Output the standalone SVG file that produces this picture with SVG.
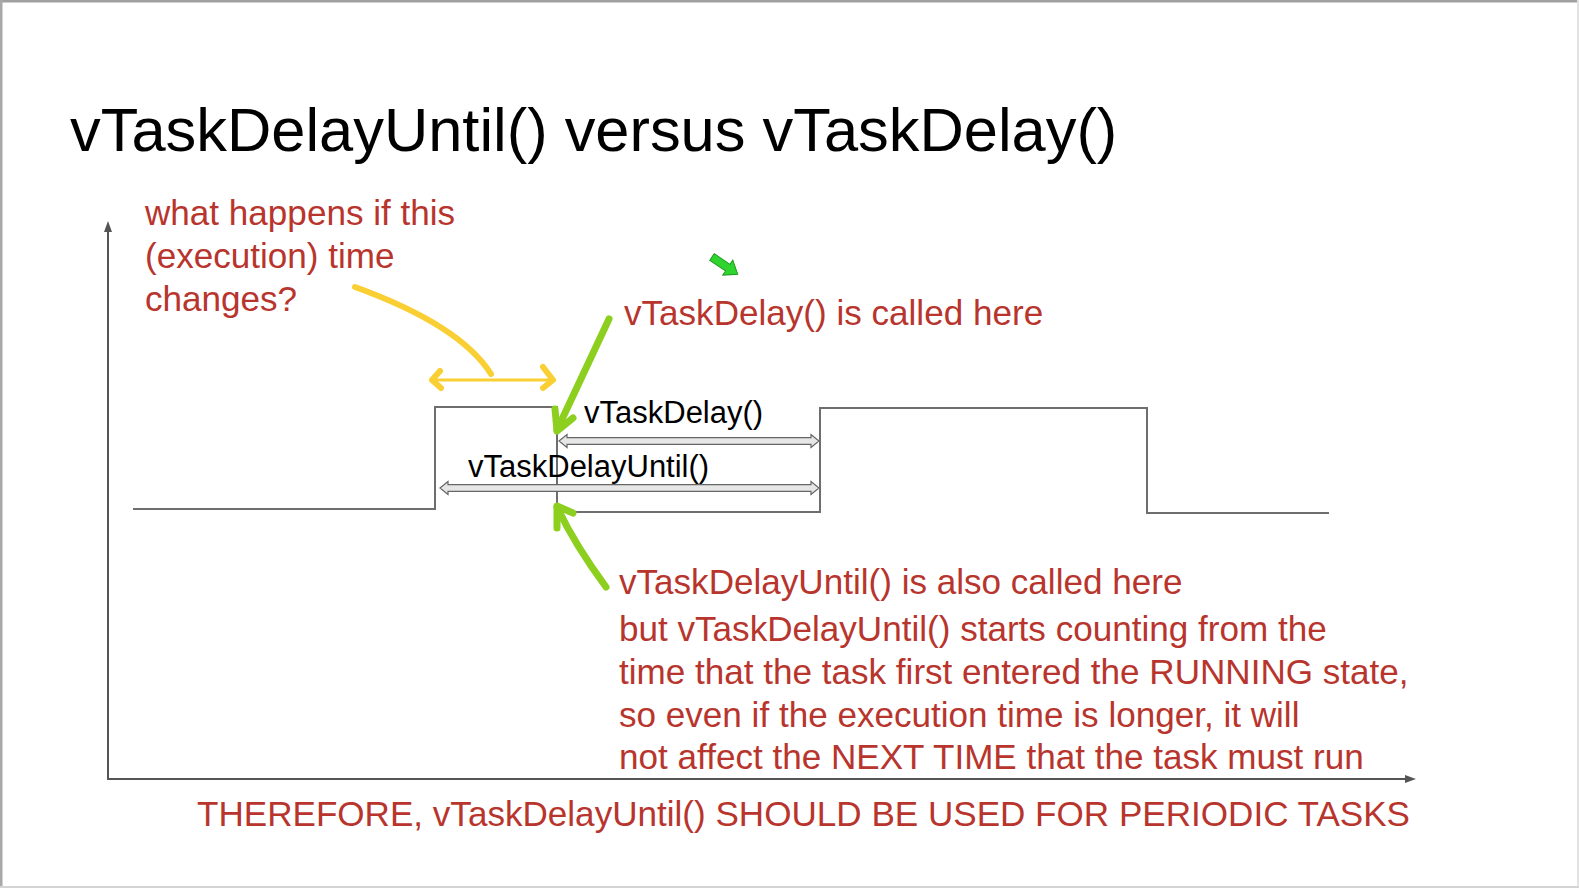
<svg xmlns="http://www.w3.org/2000/svg" width="1579" height="888" viewBox="0 0 1579 888">
<defs>
<style>
.red{fill:#b8352d;font-family:"Liberation Sans",Arial,sans-serif;font-size:35.1px}
.blk{fill:#000;font-family:"Liberation Sans",Arial,sans-serif;font-size:31px}
.wave{fill:none;stroke:#6e6e6e;stroke-width:2}
.axis{fill:none;stroke:#555;stroke-width:2}
.dbl{fill:#e6e6e6;stroke:#666;stroke-width:1.2;stroke-linejoin:miter}
.grn{fill:none;stroke:#8ccf1e;stroke-width:7;stroke-linecap:round;stroke-linejoin:round}
.yel{fill:none;stroke:#f9cf33;stroke-linecap:round;stroke-linejoin:round}
</style>
</defs>
<rect x="0" y="0" width="1579" height="888" fill="#fff"/>
<g id="frame">
<rect x="0" y="0" width="1579" height="2.5" fill="#a0a0a0"/>
<rect x="0" y="0" width="2.5" height="888" fill="#a8a8a8"/>
<rect x="1577" y="0" width="2" height="888" fill="#e2e2e2"/>
<rect x="0" y="886" width="1579" height="2" fill="#d4d4d4"/>
</g>
<g id="title">
<text x="70" y="151" font-family="Liberation Sans, Arial, sans-serif" font-size="61.4" fill="#000">vTaskDelayUntil() versus vTaskDelay()</text>
</g>
<g id="axes">
<path class="axis" d="M108,228 V779 H1408"/>
<polygon points="104,232 108,221 112,232" fill="#555"/>
<polygon points="1405,775 1416,779 1405,783" fill="#555"/>
</g>
<g id="waveform">
<path class="wave" d="M133,509 H435 V407 H557 V512 H820 V408 H1147 V513 H1329"/>
</g>
<g id="connectors">
<polygon class="dbl" points="559,441 567,434.5 567,437.7 811,437.7 811,434.5 819,441 811,447.5 811,444.3 567,444.3 567,447.5"/>
<polygon class="dbl" points="440,488 448,481.5 448,484.7 811,484.7 811,481.5 819,488 811,494.5 811,491.3 448,491.3 448,494.5"/>
<path class="yel" stroke-width="6" d="M355,287 Q460,325 491,374"/>
<path class="yel" stroke-width="3" d="M437,380 H553"/>
<path class="yel" stroke-width="6" d="M440,371 L432,380 L441,388"/>
<path class="yel" stroke-width="6" d="M543,367 L553,380 L543,388"/>
<path class="grn" d="M609,319 Q585,370 557,430"/>
<path class="grn" d="M555,409 L557,431 L573,418"/>
<path class="grn" d="M606,587 Q575,545 557,507"/>
<path class="grn" d="M557,528 L557,506 L573,513"/>
<g transform="translate(712,257) rotate(34)">
<polygon points="0,-4 19,-4 19,-9 31,0 19,9 19,4 0,4" fill="#2fd42f" stroke="#1c9a1c" stroke-width="1"/>
</g>
</g>
<g id="labels">
<text class="blk" x="584" y="423">vTaskDelay()</text>
<text class="blk" x="468" y="477">vTaskDelayUntil()</text>
</g>
<g id="notes">
<text class="red" x="145" y="225">what happens if this</text>
<text class="red" x="145" y="268">(execution) time</text>
<text class="red" x="145" y="311">changes?</text>
<text class="red" x="624" y="325">vTaskDelay() is called here</text>
<text class="red" x="619" y="594">vTaskDelayUntil() is also called here</text>
<text class="red" x="619" y="641">but vTaskDelayUntil() starts counting from the</text>
<text class="red" x="619" y="684">time that the task first entered the RUNNING state,</text>
<text class="red" x="619" y="727">so even if the execution time is longer, it will</text>
<text class="red" x="619" y="769">not affect the NEXT TIME that the task must run</text>
<text class="red" x="197" y="826">THEREFORE, vTaskDelayUntil() SHOULD BE USED FOR PERIODIC TASKS</text>
</g>
</svg>
